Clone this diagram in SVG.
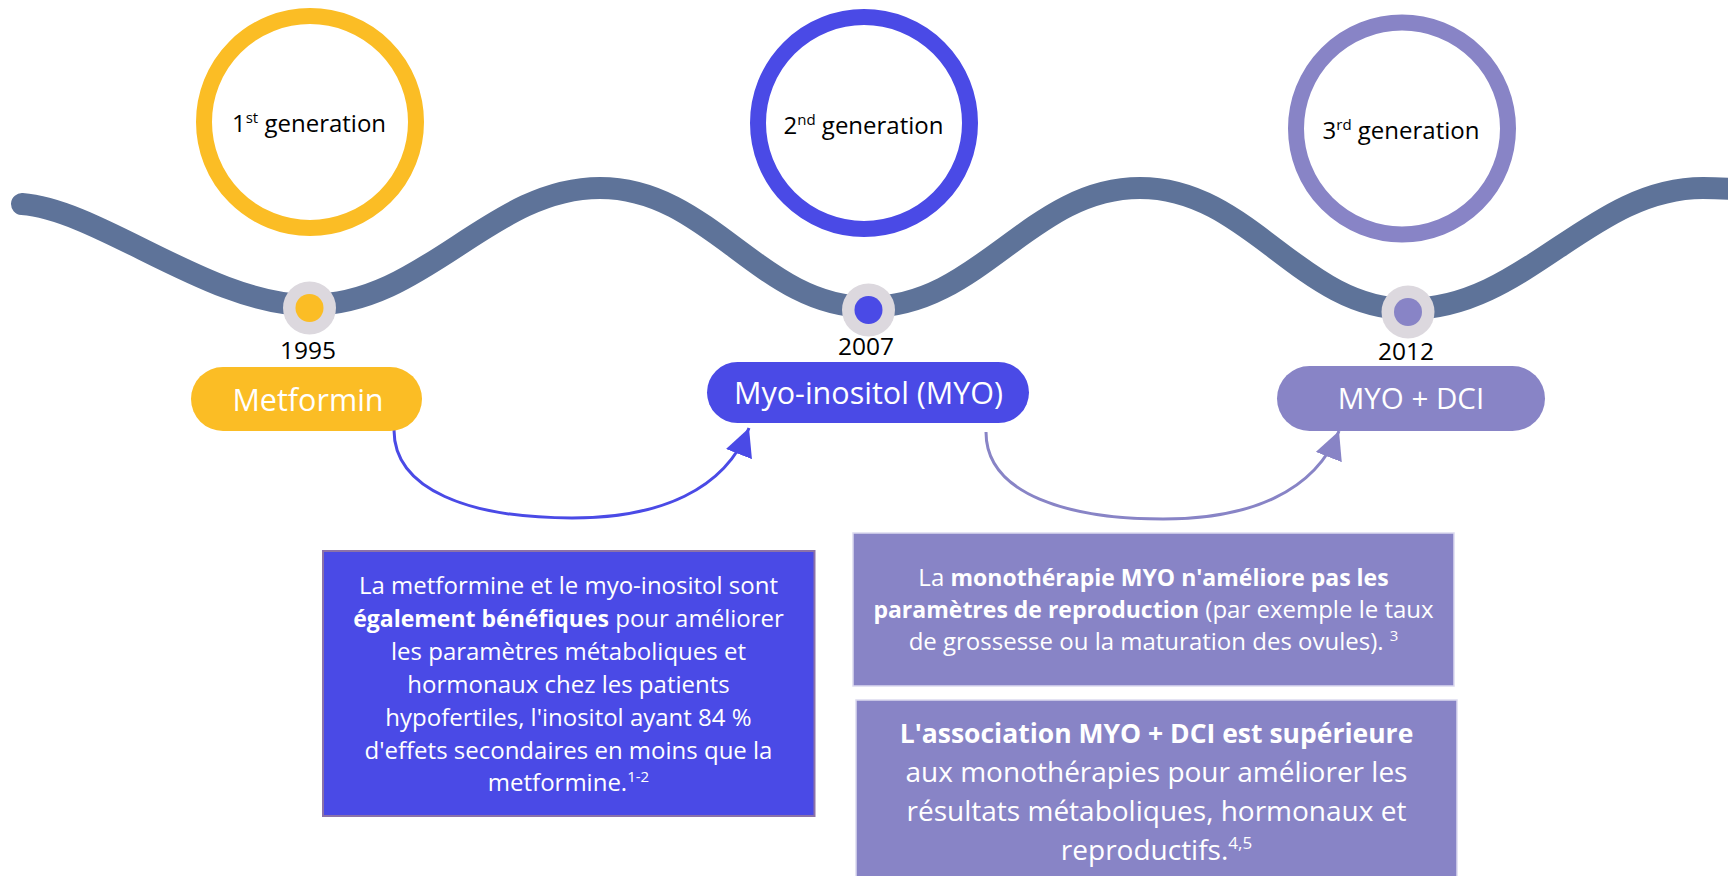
<svg xmlns="http://www.w3.org/2000/svg" width="1728" height="876" viewBox="0 0 1728 876">
  <defs>
    <style>
      text { font-family: "Open Sans", Lato, "Liberation Sans", sans-serif; }
      .dark { fill: #000000; }
      .white { fill: #ffffff; }
      .ring { fill: #ffffff; stroke-width: 16; }
      .halo { fill: #DCD8DE; }
      .gen { font-size: 24px; text-anchor: middle; }
      .year { font-size: 24.5px; text-anchor: middle; }
      .pill { text-anchor: middle; }
      .body { font-size: 24px; text-anchor: middle; }
      .body .b { font-size: 23px; }
      .body-lg { font-size: 28px; text-anchor: middle; }
      .body-lg.b { font-size: 26.5px; }
      .b { font-weight: bold; }
      .link { fill: none; stroke-width: 3; }
    </style>
    <marker id="head-blue" markerUnits="userSpaceOnUse" markerWidth="28" markerHeight="28" refX="28" refY="14" orient="auto">
      <path d="M0,0 L28,14 L0,28 Z" fill="#4A4AE6"/>
    </marker>
    <marker id="head-violet" markerUnits="userSpaceOnUse" markerWidth="28" markerHeight="28" refX="28" refY="14" orient="auto">
      <path d="M0,0 L28,14 L0,28 Z" fill="#8884C6"/>
    </marker>
  </defs>

  <rect width="1728" height="876" fill="#ffffff"/>

  <!-- timeline wave -->
  <path id="timeline" d="M22,204 C 100,210 210,305 309,305 C 425,305 490,188 600,188 C 710,188 760,307 868,307 C 980,307 1030,188 1140,188 C 1250,188 1300,309 1408,309 C 1525,309 1590,188 1703,188 C 1730,188 1750,190 1770,192" fill="none" stroke="#5E7399" stroke-width="22" stroke-linecap="round"/>

  <!-- connectors -->
  <g id="connectors">
    <path class="link" stroke="#4A4AE6" d="M394,430 C 394,490 470,518 572,518 C 660,518 725,490 749,428" marker-end="url(#head-blue)"/>
    <path class="link" stroke="#8884C6" d="M986,432 C 986,495 1070,519 1163,519 C 1250,519 1315,492 1339,431" marker-end="url(#head-violet)"/>
  </g>

  <!-- 1995 : metformin -->
  <g id="gen1">
    <circle class="ring" cx="310" cy="122" r="106" stroke="#FBBD25"/>
    <text class="gen dark" x="309" y="132">1<tspan font-size="15" dy="-9">st</tspan><tspan dy="9"> generation</tspan></text>
    <circle class="halo" cx="309.5" cy="308" r="26.5"/>
    <circle cx="309.5" cy="308" r="14" fill="#FBBD25"/>
    <text class="year dark" x="308" y="359">1995</text>
    <rect x="191" y="367" width="231" height="64" rx="32" fill="#FBBD25"/>
    <text class="pill white" x="308" y="411" font-size="30.5">Metformin</text>
  </g>

  <!-- 2007 : myo-inositol -->
  <g id="gen2">
    <circle class="ring" cx="864" cy="123" r="106" stroke="#4A4AE6"/>
    <text class="gen dark" x="863.5" y="134">2<tspan font-size="15" dy="-9">nd</tspan><tspan dy="9"> generation</tspan></text>
    <circle class="halo" cx="868.5" cy="310" r="26.5"/>
    <circle cx="868.5" cy="310" r="14" fill="#4A4AE6"/>
    <text class="year dark" x="866" y="355">2007</text>
    <rect x="707" y="362" width="322" height="61" rx="30.5" fill="#4A4AE6"/>
    <text class="pill white" x="868.5" y="404" font-size="30.5">Myo-inositol (MYO)</text>
  </g>

  <!-- 2012 : MYO + DCI -->
  <g id="gen3">
    <circle class="ring" cx="1402" cy="128.5" r="106" stroke="#8884C6"/>
    <text class="gen dark" x="1401" y="139">3<tspan font-size="15" dy="-9">rd</tspan><tspan dy="9"> generation</tspan></text>
    <circle class="halo" cx="1408" cy="312" r="26.5"/>
    <circle cx="1408" cy="312" r="14" fill="#8884C6"/>
    <text class="year dark" x="1406" y="360">2012</text>
    <rect x="1277" y="366" width="268" height="65" rx="32.5" fill="#8884C6"/>
    <text class="pill white" x="1411" y="409" font-size="29.5">MYO + DCI</text>
  </g>

  <!-- note: metformin vs myo-inositol -->
  <g id="note1">
    <rect x="323" y="551" width="491.5" height="265" fill="#4A4AE6" stroke="#8C72A8" stroke-width="2"/>
    <text class="body white" x="568.5" y="594">La metformine et le myo-inositol sont</text>
    <text class="body white" x="568.5" y="627"><tspan class="b">également bénéfiques</tspan> pour améliorer</text>
    <text class="body white" x="568.5" y="660">les paramètres métaboliques et</text>
    <text class="body white" x="568.5" y="693">hormonaux chez les patients</text>
    <text class="body white" x="568.5" y="726">hypofertiles, l'inositol ayant 84 %</text>
    <text class="body white" x="568.5" y="759">d'effets secondaires en moins que la</text>
    <text class="body white" x="568.5" y="791">metformine.<tspan font-size="15" dy="-9">1-2</tspan></text>
  </g>

  <!-- note: MYO monotherapy -->
  <g id="note2">
    <rect x="853" y="533" width="601" height="153" fill="#8884C6" stroke="#DCDAF0" stroke-width="1.5"/>
    <text class="body white" x="1153.5" y="586">La <tspan class="b">monothérapie MYO n'améliore pas les</tspan></text>
    <text class="body white" x="1153.5" y="618"><tspan class="b">paramètres de reproduction</tspan> (par exemple le taux</text>
    <text class="body white" x="1153.5" y="650">de grossesse ou la maturation des ovules). <tspan font-size="15" dy="-9">3</tspan></text>
  </g>

  <!-- note: MYO + DCI association -->
  <g id="note3">
    <rect x="856" y="700" width="601" height="190" fill="#8884C6" stroke="#DCDAF0" stroke-width="1.5"/>
    <text class="body-lg white b" x="1156.5" y="743">L'association MYO + DCI est supérieure</text>
    <text class="body-lg white" x="1156.5" y="782">aux monothérapies pour améliorer les</text>
    <text class="body-lg white" x="1156.5" y="821">résultats métaboliques, hormonaux et</text>
    <text class="body-lg white" x="1156.5" y="860">reproductifs.<tspan font-size="17" dy="-11">4,5</tspan></text>
  </g>
</svg>
